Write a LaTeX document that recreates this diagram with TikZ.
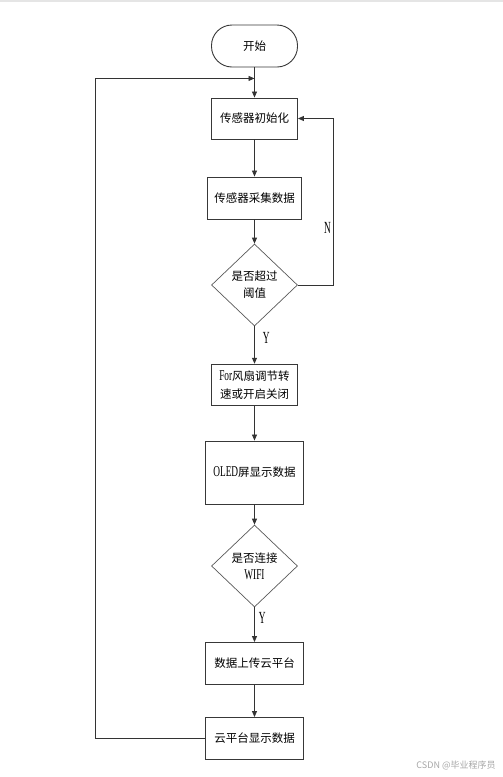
\documentclass[tikz,border=0pt]{standalone}
\usepackage{fontspec}
\setmainfont{Noto Sans CJK SC}
\newfontfamily\narrowlatin[FakeStretch=0.62]{Liberation Serif}
\newfontfamily\yesnofont[FakeStretch=0.55]{Liberation Serif}
\usetikzlibrary{positioning,shapes.geometric,arrows.meta}

\begin{document}
\begin{tikzpicture}[>={Triangle[length=6pt,width=5pt]},node distance=80pt,on grid,auto,line width=0.8pt,draw=black!80]
    \tikzset{box/.style={draw=black!78,rectangle,line width=0.9pt,minimum width=86pt,minimum height=41pt,inner sep=2pt,align=center,font=\fontsize{11.5}{18}\selectfont},
      terminal/.style={box,rounded corners=20.5pt,minimum height=42pt},
      ask/.style={draw=black!65,diamond,line width=0.7pt,minimum width=86pt,minimum height=82pt,inner sep=0pt,align=center,font=\fontsize{11.5}{17}\selectfont},
      yn/.style={font=\yesnofont\fontsize{17}{17}\selectfont,inner sep=1pt}}
    \newcommand{\lat}[1]{{\narrowlatin\fontsize{15}{15}\selectfont #1}}
    \useasboundingbox (0,0) rectangle (503pt,-777pt);
    \fill[black!10] (0,0) rectangle (503pt,-1.5pt);
    \node[terminal] (start) at (254.5pt,-46pt) {开始};
    \node[box] (init) [below = 72.5pt of start] {传感器初始化};
    \node[box,minimum width=94pt,minimum height=42pt] (collect) [below = 79.5pt of init] {传感器采集数据};
    \node[ask] (over) [below = 87pt of collect] {是否超过\\阈值};
    \node[box] (fan) [below = 99.7pt of over] {\lat{For}风扇调节转\\速或开启关闭};
    \node[box,minimum width=98pt,minimum height=63pt] (oled) [below = 87.8pt of fan] {\lat{OLED}屏显示数据};
    \node[ask] (wifi) [below = 93.5pt of oled] {是否连接\\\lat{WIFI}};
    \node[box,minimum width=98pt,minimum height=42pt] (upload) [below = 97.5pt of wifi] {数据上传云平台};
    \node[box,minimum width=98pt,minimum height=42pt] (cloud) [below = 75pt of upload] {云平台显示数据};
    \node[text=black!35,font=\fontsize{9}{9}\selectfont] (mark) at (456pt,-765pt) {CSDN @毕业程序员};
    \coordinate (join) at ([yshift=-11pt]start.south);
    \coordinate (leftx) at (95pt,0);
    \coordinate (nright) at ([xshift=35.5pt]over.east);
    \path[->]
    (start) edge [] (init)
    (init) edge [] (collect)
    (collect) edge [] (over)
    (over) edge [] node [yn,pos=0.3,xshift=7pt] {Y} (fan)
    (fan) edge [] (oled)
    (oled) edge [] (wifi)
    (wifi) edge [] node [yn,pos=0.3,xshift=3pt] {Y} (upload)
    (upload) edge [] (cloud)
    ;
    \draw[->] (over.east) -- (nright) |- node [yn,pos=0.17,left=1pt] {N} (init.east);
    \draw[->] (cloud.west) -| (leftx |- join) -- (join);
  \end{tikzpicture}
\end{document}
